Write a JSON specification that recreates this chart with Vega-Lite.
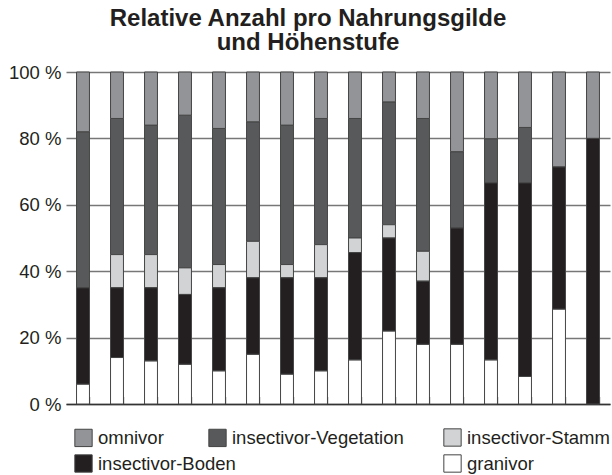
{
  "$schema": "https://vega.github.io/schema/vega-lite/v6.json",
  "width": 544,
  "height": 332,
  "autosize": {"type": "none"},
  "padding": {"left": 66, "top": 72, "right": 2, "bottom": 71},
  "background": "white",
  "config": {"view": {"stroke": null}},
  "title": {
    "text": ["Relative Anzahl pro Nahrungsgilde", "und Höhenstufe"],
    "font": "Liberation Sans",
    "fontSize": 24,
    "fontWeight": "bold",
    "color": "#231f20",
    "anchor": "middle",
    "dx": -30,
    "offset": 8,
    "lineHeight": 24.5
  },
  "data": {
    "values": [
      {"site": 1, "guild": "granivor", "pct": 6},
      {"site": 1, "guild": "insectivor-Boden", "pct": 29},
      {"site": 1, "guild": "insectivor-Vegetation", "pct": 47},
      {"site": 1, "guild": "omnivor", "pct": 18},
      {"site": 2, "guild": "granivor", "pct": 14},
      {"site": 2, "guild": "insectivor-Boden", "pct": 21},
      {"site": 2, "guild": "insectivor-Stamm", "pct": 10},
      {"site": 2, "guild": "insectivor-Vegetation", "pct": 41},
      {"site": 2, "guild": "omnivor", "pct": 14},
      {"site": 3, "guild": "granivor", "pct": 13},
      {"site": 3, "guild": "insectivor-Boden", "pct": 22},
      {"site": 3, "guild": "insectivor-Stamm", "pct": 10},
      {"site": 3, "guild": "insectivor-Vegetation", "pct": 39},
      {"site": 3, "guild": "omnivor", "pct": 16},
      {"site": 4, "guild": "granivor", "pct": 12},
      {"site": 4, "guild": "insectivor-Boden", "pct": 21},
      {"site": 4, "guild": "insectivor-Stamm", "pct": 8},
      {"site": 4, "guild": "insectivor-Vegetation", "pct": 46},
      {"site": 4, "guild": "omnivor", "pct": 13},
      {"site": 5, "guild": "granivor", "pct": 10},
      {"site": 5, "guild": "insectivor-Boden", "pct": 25},
      {"site": 5, "guild": "insectivor-Stamm", "pct": 7},
      {"site": 5, "guild": "insectivor-Vegetation", "pct": 41},
      {"site": 5, "guild": "omnivor", "pct": 17},
      {"site": 6, "guild": "granivor", "pct": 15},
      {"site": 6, "guild": "insectivor-Boden", "pct": 23},
      {"site": 6, "guild": "insectivor-Stamm", "pct": 11},
      {"site": 6, "guild": "insectivor-Vegetation", "pct": 36},
      {"site": 6, "guild": "omnivor", "pct": 15},
      {"site": 7, "guild": "granivor", "pct": 9},
      {"site": 7, "guild": "insectivor-Boden", "pct": 29},
      {"site": 7, "guild": "insectivor-Stamm", "pct": 4},
      {"site": 7, "guild": "insectivor-Vegetation", "pct": 42},
      {"site": 7, "guild": "omnivor", "pct": 16},
      {"site": 8, "guild": "granivor", "pct": 10},
      {"site": 8, "guild": "insectivor-Boden", "pct": 28},
      {"site": 8, "guild": "insectivor-Stamm", "pct": 10},
      {"site": 8, "guild": "insectivor-Vegetation", "pct": 38},
      {"site": 8, "guild": "omnivor", "pct": 14},
      {"site": 9, "guild": "granivor", "pct": 13.3},
      {"site": 9, "guild": "insectivor-Boden", "pct": 32.3},
      {"site": 9, "guild": "insectivor-Stamm", "pct": 4.4},
      {"site": 9, "guild": "insectivor-Vegetation", "pct": 36},
      {"site": 9, "guild": "omnivor", "pct": 14},
      {"site": 10, "guild": "granivor", "pct": 22},
      {"site": 10, "guild": "insectivor-Boden", "pct": 28},
      {"site": 10, "guild": "insectivor-Stamm", "pct": 4},
      {"site": 10, "guild": "insectivor-Vegetation", "pct": 37},
      {"site": 10, "guild": "omnivor", "pct": 9},
      {"site": 11, "guild": "granivor", "pct": 18},
      {"site": 11, "guild": "insectivor-Boden", "pct": 19},
      {"site": 11, "guild": "insectivor-Stamm", "pct": 9},
      {"site": 11, "guild": "insectivor-Vegetation", "pct": 40},
      {"site": 11, "guild": "omnivor", "pct": 14},
      {"site": 12, "guild": "granivor", "pct": 18},
      {"site": 12, "guild": "insectivor-Boden", "pct": 35},
      {"site": 12, "guild": "insectivor-Vegetation", "pct": 23},
      {"site": 12, "guild": "omnivor", "pct": 24},
      {"site": 13, "guild": "granivor", "pct": 13.3},
      {"site": 13, "guild": "insectivor-Boden", "pct": 53.3},
      {"site": 13, "guild": "insectivor-Vegetation", "pct": 13.3},
      {"site": 13, "guild": "omnivor", "pct": 20.1},
      {"site": 14, "guild": "granivor", "pct": 8.3},
      {"site": 14, "guild": "insectivor-Boden", "pct": 58.3},
      {"site": 14, "guild": "insectivor-Vegetation", "pct": 16.7},
      {"site": 14, "guild": "omnivor", "pct": 16.7},
      {"site": 15, "guild": "granivor", "pct": 28.6},
      {"site": 15, "guild": "insectivor-Boden", "pct": 42.8},
      {"site": 15, "guild": "omnivor", "pct": 28.6},
      {"site": 16, "guild": "insectivor-Boden", "pct": 80},
      {"site": 16, "guild": "omnivor", "pct": 20}
    ]
  },
  "transform": [
    {"stack": "pct", "groupby": ["site"], "sort": [{"field": "guild", "order": "ascending"}], "as": ["lo", "hi"]}
  ],
  "encoding": {
    "x": {
      "field": "site",
      "type": "ordinal",
      "scale": {"paddingInner": 0.62, "paddingOuter": 0.31},
      "axis": {
        "title": null,
        "labels": false,
        "tickBand": "extent",
        "tickSize": -7.5,
        "tickColor": "#333333",
        "tickWidth": 1.3,
        "domainColor": "#333333",
        "domainWidth": 1.5,
        "grid": false
      }
    },
    "y": {
      "field": "lo",
      "type": "quantitative",
      "scale": {"domain": [0, 100], "nice": false},
      "axis": {
        "title": null,
        "values": [0, 20, 40, 60, 80, 100],
        "labelExpr": "datum.value + ' %'",
        "domain": false,
        "ticks": false,
        "labelPadding": 5,
        "labelFont": "Liberation Sans",
        "labelFontSize": 18.5,
        "labelColor": "#231f20",
        "gridColor": "#777777",
        "gridWidth": 1.4
      }
    },
    "y2": {"field": "hi"}
  },
  "layer": [
    {
      "transform": [{"filter": {"field": "guild", "oneOf": ["omnivor", "insectivor-Vegetation"]}}],
      "mark": {"type": "bar", "stroke": "#444444", "strokeWidth": 1, "opacity": 1},
      "encoding": {
        "fill": {
          "field": "guild",
          "type": "nominal",
          "scale": {"domain": ["omnivor", "insectivor-Vegetation"], "range": ["#929497", "#58595b"]},
          "legend": {
            "orient": "none",
            "legendX": 8,
            "legendY": 356,
            "direction": "horizontal",
            "columns": 2,
            "title": null,
            "symbolType": "square",
            "symbolSize": 300,
            "symbolStrokeColor": "#444444",
            "symbolStrokeWidth": 1,
            "symbolOpacity": 1,
            "labelFont": "Liberation Sans",
            "labelFontSize": 18.5,
            "labelColor": "#231f20",
            "labelOffset": 5,
            "labelLimit": 320,
            "columnPadding": 42,
            "rowPadding": 7,
            "padding": 0
          }
        }
      }
    },
    {
      "transform": [{"filter": {"field": "guild", "oneOf": ["insectivor-Stamm", "granivor"]}}],
      "mark": {"type": "bar", "stroke": "#444444", "strokeWidth": 1, "opacity": 1},
      "encoding": {
        "fill": {
          "field": "guild",
          "type": "nominal",
          "scale": {"domain": ["insectivor-Stamm", "granivor"], "range": ["#d1d3d4", "#ffffff"]},
          "legend": {
            "orient": "none",
            "legendX": 377,
            "legendY": 356,
            "direction": "vertical",
            "title": null,
            "symbolType": "square",
            "symbolSize": 300,
            "symbolStrokeColor": "#444444",
            "symbolStrokeWidth": 1,
            "symbolOpacity": 1,
            "labelFont": "Liberation Sans",
            "labelFontSize": 18.5,
            "labelColor": "#231f20",
            "labelOffset": 5,
            "labelLimit": 320,
            "rowPadding": 3,
            "padding": 0
          }
        }
      }
    },
    {
      "transform": [{"filter": {"field": "guild", "equal": "insectivor-Boden"}}],
      "mark": {"type": "bar", "stroke": "#444444", "strokeWidth": 1, "opacity": 1},
      "encoding": {
        "fill": {
          "field": "guild",
          "type": "nominal",
          "scale": {"domain": ["insectivor-Boden"], "range": ["#231f20"]},
          "legend": {
            "orient": "none",
            "legendX": 8,
            "legendY": 382,
            "direction": "vertical",
            "title": null,
            "symbolType": "square",
            "symbolSize": 300,
            "symbolStrokeColor": "#444444",
            "symbolStrokeWidth": 1,
            "symbolOpacity": 1,
            "labelFont": "Liberation Sans",
            "labelFontSize": 18.5,
            "labelColor": "#231f20",
            "labelOffset": 5,
            "labelLimit": 320,
            "padding": 0
          }
        }
      }
    }
  ],
  "resolve": {"scale": {"fill": "independent"}, "legend": {"fill": "independent"}}
}
